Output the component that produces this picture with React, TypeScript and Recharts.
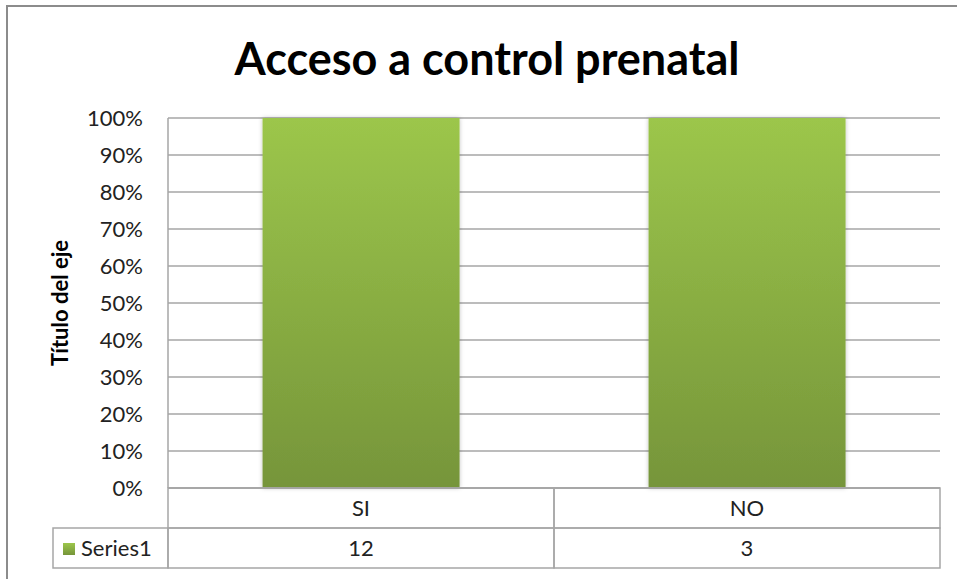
import { BarChart, Bar, XAxis, YAxis, CartesianGrid } from 'recharts';

const categories = ['SI', 'NO'];
const series1 = [12, 3];
const yTicks = [0, 0.1, 0.2, 0.3, 0.4, 0.5, 0.6, 0.7, 0.8, 0.9, 1];

const data = categories.map((name, i) => ({ name, value: series1[i] }));

const FONT = 'Lato, "Open Sans", sans-serif';
const GRID = '#a6a6a6';

// each category tick draws its own column of the data table
function TableTick(props: any) {
  const { x, y, payload, index } = props;
  const half = 193;
  const val = series1[index];
  return (
    <g>
      <rect x={x - half} y={y} width={half * 2} height={40} fill="none" stroke={GRID} strokeWidth={1.5} />
      <rect x={x - half} y={y + 40} width={half * 2} height={40} fill="none" stroke={GRID} strokeWidth={1.5} />
      <text x={x} y={y + 28} textAnchor="middle" fontSize={22} fill="#222" fontFamily={FONT}>{payload.value}</text>
      <text x={x} y={y + 68} textAnchor="middle" fontSize={22} fill="#222" fontFamily={FONT}>{val}</text>
    </g>
  );
}

export default function App() {
  return (
    <div style={{ position: 'absolute', left: 0, top: 0, width: 957, height: 579, background: '#fff', overflow: 'hidden' }}>
      <BarChart
        width={957}
        height={579}
        data={data}
        stackOffset="expand"
        barCategoryGap="24.5%"
        margin={{ top: 118, right: 17, bottom: 11, left: 0 }}
      >
        <defs>
          <linearGradient id="barFill" x1="0" y1="0" x2="0" y2="1">
            <stop offset="0%" stopColor="#9cc64b" />
            <stop offset="100%" stopColor="#76953a" />
          </linearGradient>
          <filter id="shadow" x="-5%" y="-5%" width="110%" height="110%">
            <feDropShadow dx="0" dy="0" stdDeviation="2" floodColor="#000" floodOpacity="0.25" />
          </filter>
        </defs>
        <CartesianGrid vertical={false} stroke={GRID} strokeWidth={1.3} />
        <XAxis
          dataKey="name"
          height={80}
          axisLine={{ stroke: GRID, strokeWidth: 1.5 }}
          tickLine={false}
          tickSize={0}
          tickMargin={0}
          interval={0}
          tick={<TableTick />}
        />
        <YAxis
          width={168}
          domain={[0, 1]}
          ticks={yTicks}
          tickFormatter={(v: number) => `${Math.round(v * 100)}%`}
          axisLine={{ stroke: GRID, strokeWidth: 1.5 }}
          tickLine={false}
          tickSize={0}
          tickMargin={25}
          tick={{ fontSize: 22, fill: '#222', fontFamily: FONT }}
        />
        <Bar dataKey="value" stackId="a" fill="url(#barFill)" filter="url(#shadow)" isAnimationActive={false} />
      </BarChart>
      <svg width={957} height={579} style={{ position: 'absolute', left: 0, top: 0, pointerEvents: 'none' }}>
        <defs>
          <linearGradient id="legendFill" x1="0" y1="0" x2="0" y2="1">
            <stop offset="0%" stopColor="#9cc64b" />
            <stop offset="100%" stopColor="#76953a" />
          </linearGradient>
        </defs>
        <rect x={7} y={6} width={1000} height={1000} fill="none" stroke="#8c8c8c" strokeWidth={2} />
        <text x={487} y={75} textAnchor="middle" fontSize={45} fontWeight="bold" fill="#000" fontFamily={FONT}>
          Acceso a control prenatal
        </text>
        <text
          x={0}
          y={0}
          transform="translate(68,303) rotate(-90)"
          textAnchor="middle"
          fontSize={22}
          fontWeight="bold"
          fill="#000"
          fontFamily={FONT}
        >
          Título del eje
        </text>
        <rect x={53} y={528} width={115} height={40} fill="none" stroke={GRID} strokeWidth={1.5} />
        <rect x={63} y={543} width={12} height={12} fill="url(#legendFill)" />
        <text x={81} y={556} fontSize={22} fill="#222" fontFamily={FONT}>Series1</text>
      </svg>
    </div>
  );
}
